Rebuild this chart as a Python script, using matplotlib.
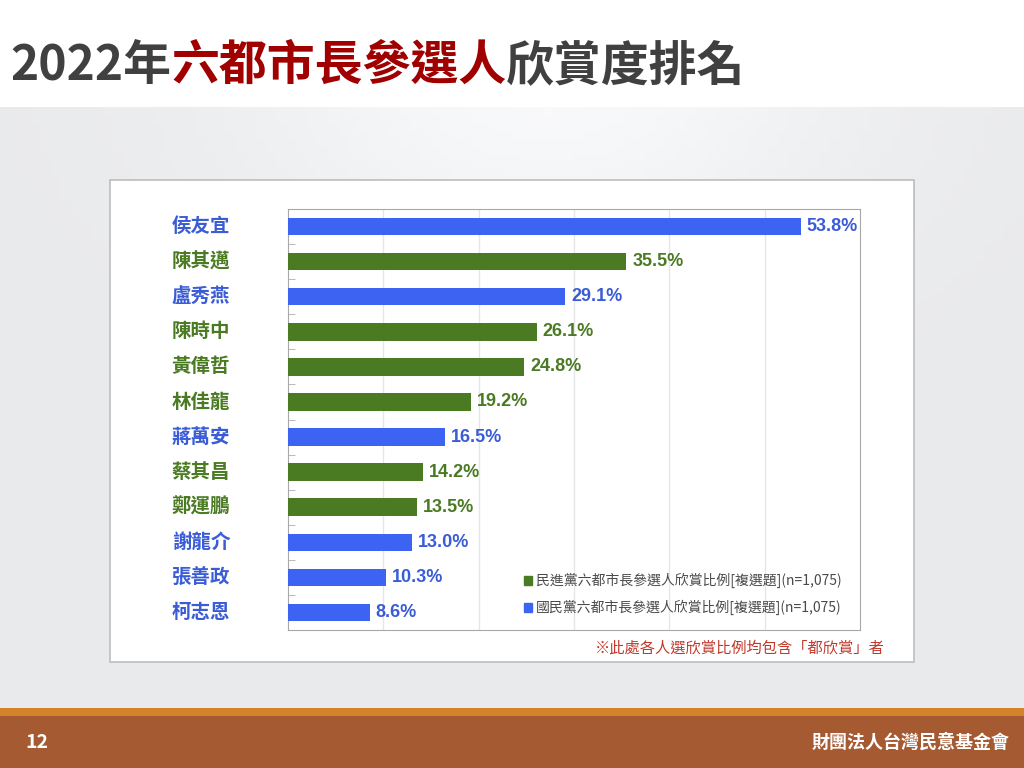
import matplotlib
matplotlib.use("Agg")
import matplotlib.pyplot as plt
import numpy as np
from matplotlib.patches import Rectangle, Patch
import matplotlib.transforms as mtransforms

plt.rcParams['font.family'] = ['Noto Sans CJK TC', 'DejaVu Sans']

# data
names = ['侯友宜', '陳其邁', '盧秀燕', '陳時中', '黃偉哲', '林佳龍',
         '蔣萬安', '蔡其昌', '鄭運鵬', '謝龍介', '張善政', '柯志恩']
values = [53.8, 35.5, 29.1, 26.1, 24.8, 19.2, 16.5, 14.2, 13.5, 13.0, 10.3, 8.6]
party = ['KMT', 'DPP', 'KMT', 'DPP', 'DPP', 'DPP',
         'KMT', 'DPP', 'DPP', 'KMT', 'KMT', 'KMT']
legend_labels = {'DPP': '民進黨六都市長參選人欣賞比例[複選題](n=1,075)',
                 'KMT': '國民黨六都市長參選人欣賞比例[複選題](n=1,075)'}

bar_color = {'KMT': '#3d63f2', 'DPP': '#4a7a22'}
text_color = {'KMT': '#3a5cd6', 'DPP': '#4a7a22'}

fig = plt.figure(figsize=(10.24, 7.68), dpi=100)

# slide background: light gray with a soft light spot near the top
bg = fig.add_axes([0, 0, 1, 1], zorder=-10)
bg.set_axis_off()
yy, xx = np.mgrid[0:100, 0:100]
spot = np.exp(-(((xx - 53) / 30.0) ** 2 + ((yy - 10) / 25.0) ** 2))
shade = 0.915 + 0.06 * spot
bg.imshow(np.dstack([shade, shade + 0.003, shade + 0.008]).clip(0, 1),
          extent=[0, 1, 0, 1], aspect='auto', origin='upper')
bg.set_xlim(0, 1)
bg.set_ylim(0, 1)

# white header band
fig.patches.append(Rectangle((0, 1 - 107 / 768), 1, 107 / 768, transform=fig.transFigure,
                             facecolor='white', edgecolor='none', zorder=-5))
# footer
fig.patches.append(Rectangle((0, 0), 1, 52 / 768, transform=fig.transFigure,
                             facecolor='#a65a32', edgecolor='none', zorder=-5))
fig.patches.append(Rectangle((0, 52 / 768), 1, 8 / 768, transform=fig.transFigure,
                             facecolor='#d4832b', edgecolor='none', zorder=-5))
# chart card
fig.patches.append(Rectangle((110 / 1024, 1 - 662 / 768), 804 / 1024, 482 / 768,
                             transform=fig.transFigure, facecolor='white',
                             edgecolor='#bdbdbd', linewidth=1.2, zorder=-4))

# title in two colours
renderer = fig.canvas.get_renderer()
pieces = [('2022年', '#404040'), ('六都市長參選人', '#a00000'), ('欣賞度排名', '#404040')]
x = 10 / 1024
for txt, col in pieces:
    t = fig.text(x, 1 - 80 / 768, txt, fontsize=34.5, fontweight='bold', color=col,
                 ha='left', va='baseline')
    bb = t.get_window_extent(renderer=renderer)
    x = bb.x1 / fig.bbox.width

# chart
ax = fig.add_axes([288 / 1024, 1 - 630 / 768, 572 / 1024, 421 / 768])
y = np.arange(len(names))
colors = [bar_color[p] for p in party]
ax.barh(y, values, height=0.5, color=colors, zorder=3)
ax.set_xlim(0, 60)
ax.set_ylim(len(names) - 0.5, -0.5)
ax.set_xticks([10, 20, 30, 40, 50])
ax.xaxis.grid(True, color='#e6e6e6', linewidth=1, zorder=0)
ax.tick_params(axis='x', length=0, labelbottom=False)
ax.set_yticks([])
ax.set_yticks(np.arange(len(names)) + 0.5, minor=True)
ax.tick_params(axis='y', which='minor', direction='in', length=5, color='#b0b0b0')
for s in ax.spines.values():
    s.set_color('#a8a8a8')

trans = mtransforms.blended_transform_factory(ax.transAxes, ax.transData)
for i, (n, v, p) in enumerate(zip(names, values, party)):
    ax.text(-0.101, i, n, transform=trans, ha='right', va='center',
            fontsize=14, fontweight='bold', color=text_color[p])
    ax.text(v + 0.6, i, f'{v:.1f}%', ha='left', va='center', fontsize=13,
            fontweight='bold', color=text_color[p], family='Liberation Sans')

handles = [Patch(color=bar_color['DPP'], label=legend_labels['DPP']),
           Patch(color=bar_color['KMT'], label=legend_labels['KMT'])]
ax.legend(handles=handles, loc='lower right', bbox_to_anchor=(0.99, 0.005),
          frameon=False, fontsize=10, handlelength=0.6, handleheight=0.6,
          handletextpad=0.3, labelspacing=0.85, labelcolor='#4a4a4a')

fig.text(885 / 1024, 1 - 648 / 768, '※此處各人選欣賞比例均包含「都欣賞」者',
         ha='right', va='center', fontsize=11, color='#c0392b')

# footer text
fig.text(25 / 1024, 1 - 743 / 768, '12', fontsize=14, fontweight='bold',
         color='white', ha='left', va='center')
fig.text(1010 / 1024, 1 - 742 / 768, '財團法人台灣民意基金會', fontsize=13,
         fontweight='bold', color='white', ha='right', va='center')

fig.savefig('out.png', dpi=100)
